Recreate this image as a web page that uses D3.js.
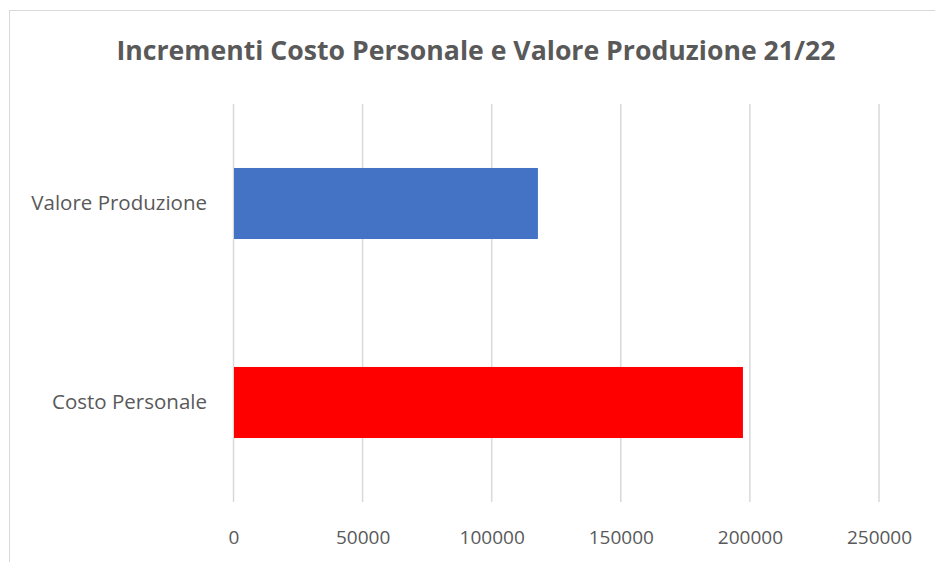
<!DOCTYPE html>
<html>
<head>
<meta charset="utf-8">
<script src="https://cdn.jsdelivr.net/npm/d3@7"></script>
<style>
  body { margin: 0; background: #fff; }
  text { font-family: "Open Sans", "DejaVu Sans", sans-serif; fill: #595959; }
</style>
</head>
<body>
<div id="graph"></div>
<script>
var categories = ["Valore Produzione", "Costo Personale"];
var values = [117900, 197300];
var barColors = ["#4472c4", "#ff0000"];
var tickValues = [0, 50000, 100000, 150000, 200000, 250000];
var title = "Incrementi Costo Personale e Valore Produzione 21/22";

var svg = d3.select("#graph").append("svg")
    .attr("width", 935)
    .attr("height", 562);

// chart border
svg.append("rect")
    .attr("x", 9.5)
    .attr("y", 10.5)
    .attr("width", 940)
    .attr("height", 600)
    .style("fill", "#fff")
    .style("stroke", "#d9d9d9")
    .style("stroke-width", 1);

var x = d3.scaleLinear()
    .domain([0, 250000])
    .range([233.5, 879]);

var y = d3.scaleBand()
    .domain(categories)
    .range([104, 502])
    .paddingInner(0.643)
    .paddingOuter(0.3215);

// gridlines
svg.append("g")
    .selectAll("line")
    .data(tickValues)
    .join("line")
    .attr("x1", function(d) { return x(d); })
    .attr("x2", function(d) { return x(d); })
    .attr("y1", 104)
    .attr("y2", 502)
    .style("stroke", "#d9d9d9")
    .style("stroke-width", 1.5);

// bars
svg.append("g")
    .selectAll("rect")
    .data(categories)
    .join("rect")
    .attr("x", x(0) + 0.5)
    .attr("y", function(d) { return y(d); })
    .attr("width", function(d, i) { return x(values[i]) - x(0) - 0.5; })
    .attr("height", y.bandwidth())
    .style("fill", function(d, i) { return barColors[i]; });

// x axis labels
var xAxis = d3.axisBottom(x).tickValues(tickValues).tickSize(0).tickPadding(0).tickFormat(d3.format("d"));
var gx = svg.append("g")
    .attr("transform", "translate(0,537)")
    .call(xAxis);
gx.select(".domain").remove();
gx.selectAll("text")
    .attr("dy", "0.35em")
    .attr("y", 0)
    .style("font-size", "19px")
    .style("font-family", "'Open Sans', sans-serif")
    .style("fill", "#595959");

// category labels
var yAxis = d3.axisLeft(y).tickSize(0).tickPadding(0);
var gy = svg.append("g")
    .attr("transform", "translate(207,0)")
    .call(yAxis);
gy.select(".domain").remove();
gy.selectAll("text")
    .style("font-size", "20.5px")
    .style("font-family", "'Open Sans', sans-serif")
    .style("fill", "#595959");

// title
svg.append("text")
    .attr("x", 476)
    .attr("y", 53)
    .attr("text-anchor", "middle")
    .attr("dominant-baseline", "middle")
    .attr("textLength", 719)
    .attr("lengthAdjust", "spacingAndGlyphs")
    .style("font-size", "27px")
    .style("font-weight", "bold")
    .text(title);
</script>
</body>
</html>
